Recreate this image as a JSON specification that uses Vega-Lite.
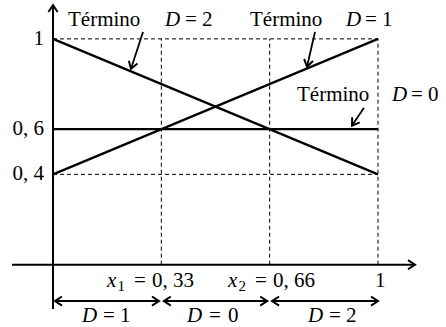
{
  "$schema": "https://vega.github.io/schema/vega-lite/v6.json",
  "width": 446,
  "height": 327,
  "padding": 0,
  "autosize": {"type": "fit", "contains": "padding"},
  "background": "white",
  "config": {"view": {"stroke": null}},
  "data": {
    "values": [
      {"layer": "dash", "x": 0, "y": 1, "x2": 1, "y2": 1},
      {"layer": "dash", "x": 0, "y": 0.4, "x2": 1, "y2": 0.4},
      {"layer": "dash", "x": 0.3333, "y": 0, "x2": 0.3333, "y2": 1},
      {"layer": "dash", "x": 0.6667, "y": 0, "x2": 0.6667, "y2": 1},
      {"layer": "dash", "x": 1, "y": 0, "x2": 1, "y2": 1},
      {"layer": "solid", "x": 0, "y": 1, "x2": 1, "y2": 0.4},
      {"layer": "solid", "x": 0, "y": 0.4, "x2": 1, "y2": 1},
      {"layer": "solid", "x": 0, "y": 0.6, "x2": 1, "y2": 0.6},
      {"layer": "axis", "x": -0.1262, "y": 0, "x2": 1.1138, "y2": 0},
      {"layer": "axis", "x": 0, "y": -0.1965, "x2": 0, "y2": 1.15},
      {"layer": "ptr", "x": 0.2769, "y": 1.0309, "x2": 0.24, "y2": 0.8675},
      {"layer": "ptr", "x": 0.8062, "y": 1.0309, "x2": 0.7815, "y2": 0.8764},
      {"layer": "ptr", "x": 0.9569, "y": 0.6954, "x2": 0.92, "y2": 0.6159},
      {"layer": "dbl", "x": 0.006, "y": -0.1611, "x2": 0.326, "y2": -0.1611},
      {"layer": "dbl", "x": 0.341, "y": -0.1611, "x2": 0.659, "y2": -0.1611},
      {"layer": "dbl", "x": 0.674, "y": -0.1611, "x2": 1.0, "y2": -0.1611},
      {"layer": "head", "x": 1.1138, "y": 0, "dir": "right"},
      {"layer": "head", "x": 0, "y": 1.15, "dir": "up"},
      {"layer": "head", "x": 0.24, "y": 0.8675, "dir": "p2"},
      {"layer": "head", "x": 0.7815, "y": 0.8764, "dir": "p1"},
      {"layer": "head", "x": 0.92, "y": 0.6159, "dir": "p0"},
      {"layer": "head", "x": 0.006, "y": -0.1611, "dir": "left"},
      {"layer": "head", "x": 0.326, "y": -0.1611, "dir": "right"},
      {"layer": "head", "x": 0.341, "y": -0.1611, "dir": "left"},
      {"layer": "head", "x": 0.659, "y": -0.1611, "dir": "right"},
      {"layer": "head", "x": 0.674, "y": -0.1611, "dir": "left"},
      {"layer": "head", "x": 1.0, "y": -0.1611, "dir": "right"},
      {"layer": "rm", "x": 0.0462, "y": 1.0574, "t": "Término"},
      {"layer": "it", "x": 0.3446, "y": 1.0574, "t": "D"},
      {"layer": "rm", "x": 0.4062, "y": 1.0574, "t": "="},
      {"layer": "rm", "x": 0.4585, "y": 1.0574, "t": "2"},
      {"layer": "rm", "x": 0.6062, "y": 1.0574, "t": "Término"},
      {"layer": "it", "x": 0.9015, "y": 1.0574, "t": "D"},
      {"layer": "rm", "x": 0.96, "y": 1.0574, "t": "="},
      {"layer": "rm", "x": 1.0123, "y": 1.0574, "t": "1"},
      {"layer": "rm", "x": 0.7508, "y": 0.7263, "t": "Término"},
      {"layer": "it", "x": 1.0431, "y": 0.7263, "t": "D"},
      {"layer": "rm", "x": 1.1016, "y": 0.7263, "t": "="},
      {"layer": "rm", "x": 1.1538, "y": 0.7263, "t": "0"},
      {"layer": "it", "x": 0.1662, "y": -0.0993, "t": "x"},
      {"layer": "sub", "x": 0.1985, "y": -0.117, "t": "1"},
      {"layer": "rm", "x": 0.2493, "y": -0.0993, "t": "="},
      {"layer": "rm", "x": 0.3046, "y": -0.0993, "t": "0, 33"},
      {"layer": "it", "x": 0.5385, "y": -0.0993, "t": "x"},
      {"layer": "sub", "x": 0.5708, "y": -0.117, "t": "2"},
      {"layer": "rm", "x": 0.6216, "y": -0.0993, "t": "="},
      {"layer": "rm", "x": 0.6769, "y": -0.0993, "t": "0, 66"},
      {"layer": "rm", "x": 0.9908, "y": -0.0993, "t": "1"},
      {"layer": "it", "x": 0.0892, "y": -0.2539, "t": "D"},
      {"layer": "rm", "x": 0.1539, "y": -0.2539, "t": "="},
      {"layer": "rm", "x": 0.2062, "y": -0.2539, "t": "1"},
      {"layer": "it", "x": 0.4123, "y": -0.2539, "t": "D"},
      {"layer": "rm", "x": 0.48, "y": -0.2539, "t": "="},
      {"layer": "rm", "x": 0.5385, "y": -0.2539, "t": "0"},
      {"layer": "it", "x": 0.7846, "y": -0.2539, "t": "D"},
      {"layer": "rm", "x": 0.8493, "y": -0.2539, "t": "="},
      {"layer": "rm", "x": 0.9015, "y": -0.2539, "t": "2"},
      {"layer": "ytick", "x": -0.0277, "y": 1, "t": "1"},
      {"layer": "ytick", "x": -0.0277, "y": 0.6, "t": "0, 6"},
      {"layer": "ytick", "x": -0.0277, "y": 0.4, "t": "0, 4"}
    ]
  },
  "encoding": {
    "x": {"field": "x", "type": "quantitative", "scale": {"domain": [-0.1631, 1.2092], "nice": false, "zero": false}, "axis": null},
    "y": {"field": "y", "type": "quantitative", "scale": {"domain": [-0.2715, 1.1722], "nice": false, "zero": false}, "axis": null}
  },
  "layer": [
    {
      "transform": [{"filter": "datum.layer == 'dash'"}],
      "mark": {"type": "rule", "color": "black", "strokeWidth": 1, "strokeDash": [4, 3]},
      "encoding": {"x2": {"field": "x2"}, "y2": {"field": "y2"}}
    },
    {
      "transform": [{"filter": "datum.layer == 'solid'"}],
      "mark": {"type": "rule", "color": "black", "strokeWidth": 2.2},
      "encoding": {"x2": {"field": "x2"}, "y2": {"field": "y2"}}
    },
    {
      "transform": [{"filter": "datum.layer == 'axis'"}],
      "mark": {"type": "rule", "color": "black", "strokeWidth": 2},
      "encoding": {"x2": {"field": "x2"}, "y2": {"field": "y2"}}
    },
    {
      "transform": [{"filter": "datum.layer == 'ptr'"}],
      "mark": {"type": "rule", "color": "black", "strokeWidth": 1.8},
      "encoding": {"x2": {"field": "x2"}, "y2": {"field": "y2"}}
    },
    {
      "transform": [{"filter": "datum.layer == 'dbl'"}],
      "mark": {"type": "rule", "color": "black", "strokeWidth": 2},
      "encoding": {"x2": {"field": "x2"}, "y2": {"field": "y2"}}
    },
    {
      "transform": [{"filter": "datum.layer == 'head' && datum.dir == 'right'"}],
      "mark": {"type": "point", "shape": "M-1,-0.65L0,0L-1,0.65", "filled": false, "stroke": "black", "strokeWidth": 2, "size": 196, "opacity": 1, "angle": 0}
    },
    {
      "transform": [{"filter": "datum.layer == 'head' && datum.dir == 'left'"}],
      "mark": {"type": "point", "shape": "M-1,-0.65L0,0L-1,0.65", "filled": false, "stroke": "black", "strokeWidth": 2, "size": 196, "opacity": 1, "angle": 180}
    },
    {
      "transform": [{"filter": "datum.layer == 'head' && datum.dir == 'up'"}],
      "mark": {"type": "point", "shape": "M-1,-0.65L0,0L-1,0.65", "filled": false, "stroke": "black", "strokeWidth": 2, "size": 196, "opacity": 1, "angle": 270}
    },
    {
      "transform": [{"filter": "datum.layer == 'head' && datum.dir == 'p2'"}],
      "mark": {"type": "point", "shape": "M-1,-0.65L0,0L-1,0.65", "filled": false, "stroke": "black", "strokeWidth": 2, "size": 196, "opacity": 1, "angle": 108}
    },
    {
      "transform": [{"filter": "datum.layer == 'head' && datum.dir == 'p1'"}],
      "mark": {"type": "point", "shape": "M-1,-0.65L0,0L-1,0.65", "filled": false, "stroke": "black", "strokeWidth": 2, "size": 196, "opacity": 1, "angle": 103}
    },
    {
      "transform": [{"filter": "datum.layer == 'head' && datum.dir == 'p0'"}],
      "mark": {"type": "point", "shape": "M-1,-0.65L0,0L-1,0.65", "filled": false, "stroke": "black", "strokeWidth": 2, "size": 196, "opacity": 1, "angle": 124}
    },
    {
      "transform": [{"filter": "datum.layer == 'rm'"}],
      "mark": {"type": "text", "font": "Liberation Serif", "fontSize": 21, "align": "left", "baseline": "alphabetic"},
      "encoding": {"text": {"field": "t"}}
    },
    {
      "transform": [{"filter": "datum.layer == 'it'"}],
      "mark": {"type": "text", "font": "Liberation Serif", "fontSize": 21, "fontStyle": "italic", "align": "left", "baseline": "alphabetic"},
      "encoding": {"text": {"field": "t"}}
    },
    {
      "transform": [{"filter": "datum.layer == 'sub'"}],
      "mark": {"type": "text", "font": "Liberation Serif", "fontSize": 15, "align": "left", "baseline": "alphabetic"},
      "encoding": {"text": {"field": "t"}}
    },
    {
      "transform": [{"filter": "datum.layer == 'ytick'"}],
      "mark": {"type": "text", "font": "Liberation Serif", "fontSize": 21, "align": "right", "baseline": "middle"},
      "encoding": {"text": {"field": "t"}}
    }
  ]
}
